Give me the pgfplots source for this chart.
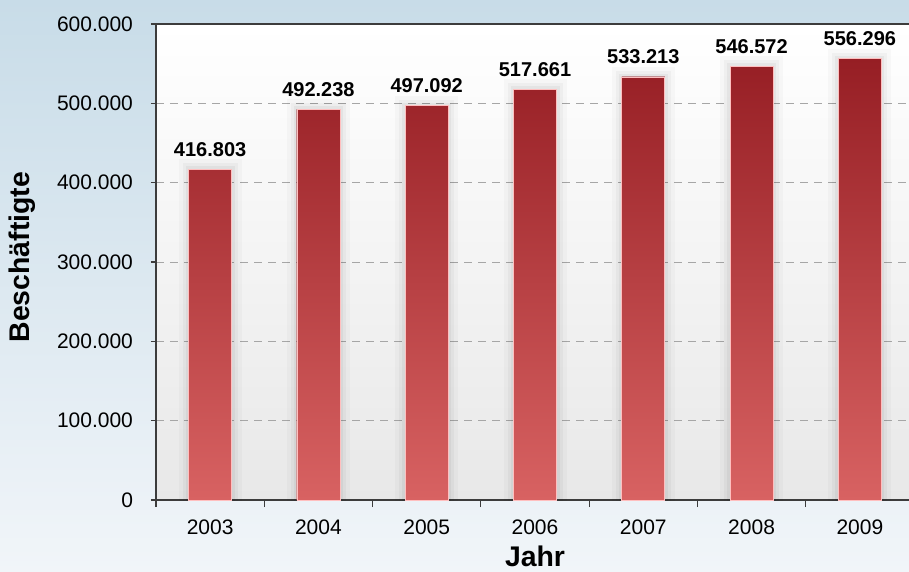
\documentclass[border=0pt]{standalone}
\usepackage{fontspec}
\setmainfont{Liberation Sans}
\usepackage{pgfplots}
\pgfplotsset{compat=1.18}
\definecolor{bgtop}{RGB}{200,220,232}
\definecolor{bgbot}{RGB}{241,245,249}
\definecolor{bartop}{RGB}{150,30,36}
\definecolor{barbot}{RGB}{216,98,98}
\definecolor{axgray}{RGB}{60,60,60}

\begin{document}
\begin{tikzpicture}
% page background
\shade[top color=bgtop, bottom color=bgbot] (-78pt,-36pt) rectangle (376.5pt,250pt);
\begin{axis}[
    scale only axis,
    width=379pt, height=238pt,
    xmin=-0.5, xmax=6.5,
    ymin=0, ymax=600000,
    xtick={0,...,6},
    xticklabels={2003,2004,2005,2006,2007,2008,2009},
    major x tick style={draw=none},
    minor xtick={-0.5,0.5,...,6.5},
    minor tick length=3.5pt,
    major tick length=2.5pt,
    tick align=outside,
    xtick pos=bottom, ytick pos=left,
    ytick={0,100000,...,600000},
    scaled y ticks=false,
    /pgf/number format/.cd, fixed, precision=0, 1000 sep={.}, assume math mode=true, /pgfplots/.cd,
    tick label style={font=\fontsize{10.5}{12}\selectfont, black},
    yticklabel style={xshift=-5.5pt},
    xticklabel style={yshift=-4pt},
    ymajorgrids,
    grid style={gray!70, dash pattern=on 4pt off 3pt, line width=0.5pt},
    axis line style={axgray, line width=0.75pt},
    tick style={axgray, line width=0.6pt},
    axis background/.style={shade, top color=white, bottom color=black!9},
    ylabel={Beschäftigte},
    xlabel={Jahr},
    every axis y label/.style={at={(axis description cs:-0.177,0.51)}, rotate=90, anchor=center,
        font=\fontsize{14.2}{16}\selectfont\bfseries},
    every axis x label/.style={at={(axis description cs:0.5,-0.118)}, anchor=center,
        font=\fontsize{14.2}{16}\selectfont\bfseries},
    ybar, bar width=21.5pt, bar shift=0pt,
    nodes near coords,
    point meta=explicit symbolic,
    every node near coord/.append style={font=\fontsize{10}{12}\selectfont\bfseries, yshift=3pt},
]
\addplot[
    shade, top color=bartop, bottom color=barbot,
    draw=white!75!red, line width=0.4pt,
    preaction={draw=black, draw opacity=0.025, line width=10pt},
    preaction={draw=black, draw opacity=0.03, line width=6pt},
    preaction={draw=black, draw opacity=0.04, line width=3pt},
] coordinates {
    (0,416803) [416.803]
    (1,492238) [492.238]
    (2,497092) [497.092]
    (3,517661) [517.661]
    (4,533213) [533.213]
    (5,546572) [546.572]
    (6,556296) [556.296]
};
\end{axis}
\pgfresetboundingbox
\useasboundingbox (-78pt,-36pt) rectangle (376.5pt,250pt);
\end{tikzpicture}
\end{document}
